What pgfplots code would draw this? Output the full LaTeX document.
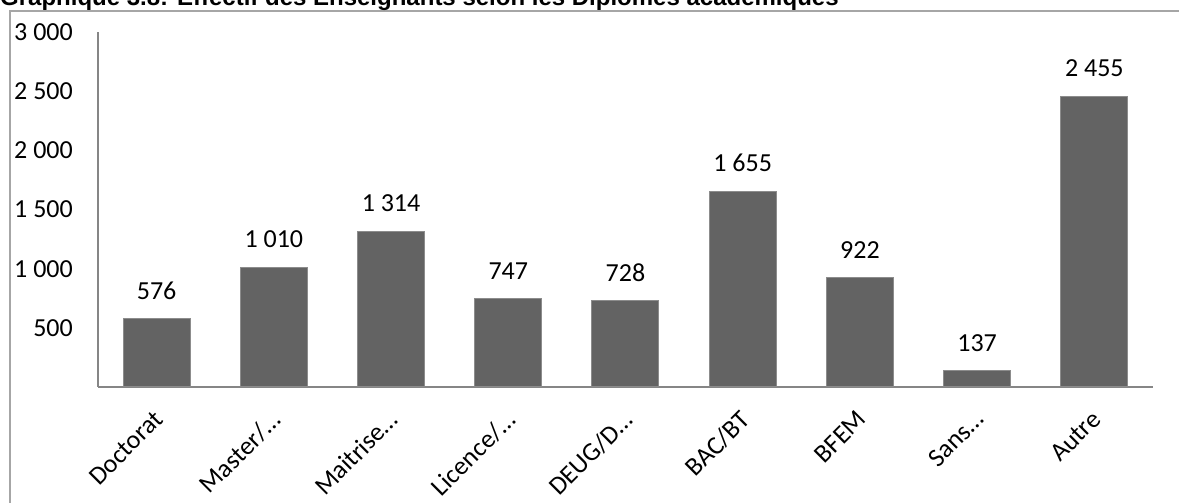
\documentclass[border=0pt]{standalone}
\usepackage{fontspec}
\setmainfont{Carlito}
\newfontfamily\titlefont{Liberation Sans}
\usepackage{pgfplots}
\pgfplotsset{compat=1.18}
\definecolor{barfill}{HTML}{636363}
\definecolor{baredge}{HTML}{8C8C8C}
\definecolor{axisgray}{HTML}{868686}
\definecolor{framegray}{HTML}{A6A6A6}
\begin{document}
\begin{tikzpicture}
\useasboundingbox (0,0) rectangle (1179pt,503pt);
\clip (0,0) rectangle (1179pt,503pt);
% outer chart frame (runs past the picture on the right and bottom)
\draw[framegray, line width=1.5pt] (10pt,-20pt) -- (10pt,492pt) -- (1200pt,492pt);
\node[anchor=base west, inner sep=0pt] at (0pt,497pt)
  {\titlefont\bfseries\fontsize{24}{28}\selectfont Graphique 3.8: Effectif des Enseignants selon les Diplômes académiques};
\begin{axis}[
  scale only axis,
  width=1055pt, height=355pt,
  at={(98pt,116pt)}, anchor=south west,
  xmin=-0.5, xmax=8.5,
  ymin=0, ymax=3000,
  axis lines=left,
  axis line style={-, draw=axisgray, line width=1.8pt},
  major tick length=0pt,
  ytick={500,1000,1500,2000,2500,3000},
  yticklabels={500,1 000,1 500,2 000,2 500,3 000},
  xtick={0,...,8},
  xticklabels={Doctorat,Master/…,Maitrise…,Licence/…,DEUG/D…,BAC/BT,BFEM,Sans…,Autre},
  tick label style={font=\fontsize{26}{30}\selectfont},
  yticklabel style={anchor=east, inner sep=0pt, xshift=-25pt},
  xticklabel style={inner sep=0pt, xshift=-4pt, yshift=-22pt, rotate=45, anchor=north east},
  ybar, bar width=67pt, bar shift=0pt,
  point meta=explicit symbolic,
  nodes near coords,
  every node near coord/.append style={font=\fontsize{26}{30}\selectfont, anchor=south, inner sep=0pt, yshift=19pt, text=black},
]
\addplot[fill=barfill, draw=baredge, line width=1pt] coordinates {
  (0,576) [576]
  (1,1010) [1 010]
  (2,1314) [1 314]
  (3,747) [747]
  (4,728) [728]
  (5,1655) [1 655]
  (6,922) [922]
  (7,137) [137]
  (8,2455) [2 455]
};
\end{axis}
\end{tikzpicture}
\end{document}
